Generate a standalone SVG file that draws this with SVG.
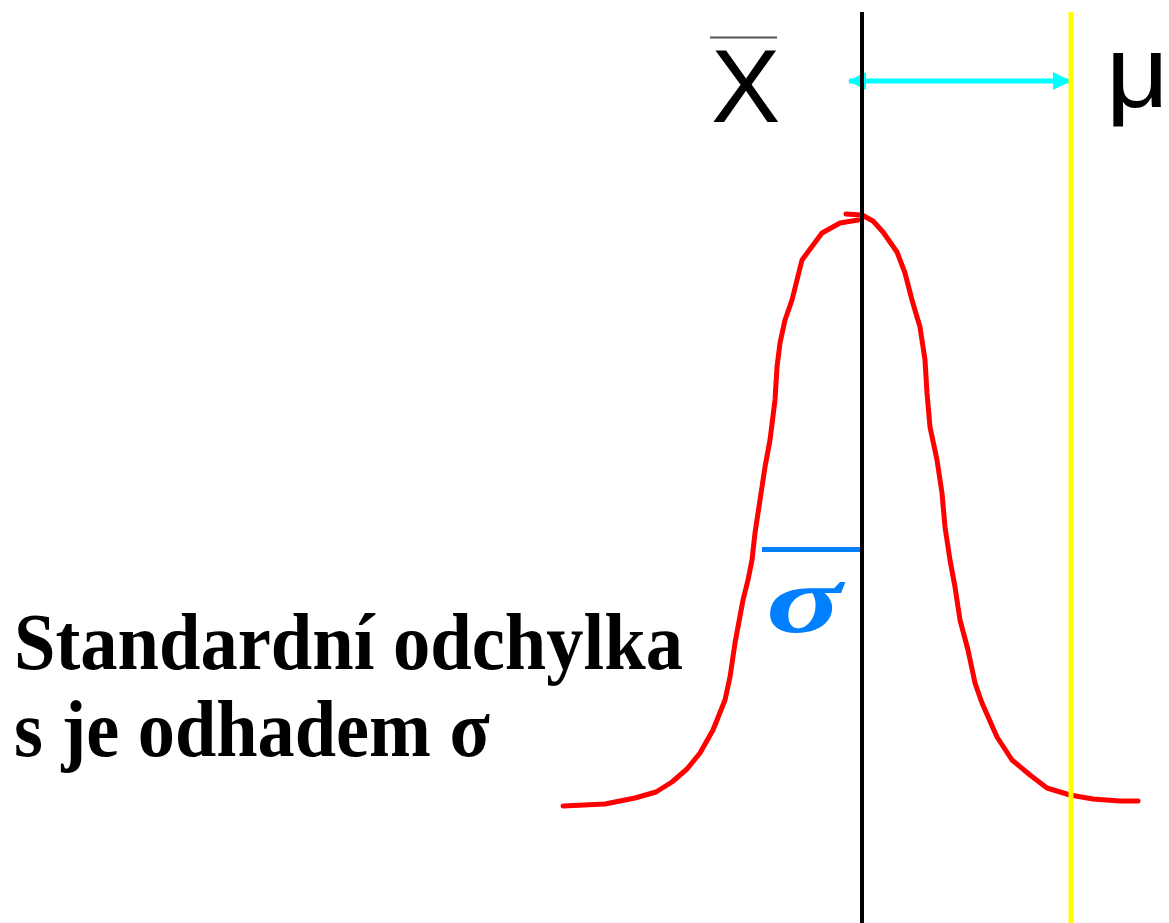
<svg xmlns="http://www.w3.org/2000/svg" width="1169" height="923" viewBox="0 0 1169 923">
<style>
.curve{fill:none;stroke:#FF0000;stroke-width:5;stroke-linejoin:round;stroke-linecap:round}
.sans{font-family:"Liberation Sans",Arial,sans-serif;fill:#000}
.cap{font-family:"Liberation Serif","Times New Roman",serif;font-weight:bold;font-size:80px;fill:#000}
</style>
<defs>
<marker id="ah" viewBox="0 0 18 18" refX="17" refY="9" markerWidth="18" markerHeight="18" markerUnits="userSpaceOnUse" orient="auto-start-reverse">
<path d="M0,0 L18,9 L0,18 Z" fill="#00FFFF"/>
</marker>
</defs>
<rect width="1169" height="923" fill="#fff"/>
<g id="curve">
<polyline class="curve" points="563,806 605,804 635,798 656,792 672,782 687,769 700,753 713,730 725,700 730,677 735,643 743,600 748,580 752,560 755,533 760,500 765,467 770,440 775,400 777,367 780,343 785,320 792,300 802,260 822,233 840,223 858,220"/>
<polyline class="curve" points="846,214 862,215 873,221 883,232 897,252 905,273 912,300 920,327 925,360 927,393 930,427 937,460 942,493 945,527 950,560 955,587 960,620 968,650 975,683 982,703 997,737 1012,760 1030,775 1047,788 1070,795 1093,799 1120,801 1138,801"/>
</g>
<g id="sigma-bar">
<line x1="762" y1="549.5" x2="861" y2="549.5" stroke="#0080FF" stroke-width="5"/>
<text x="766" y="632" font-family="'Liberation Serif','Times New Roman',serif" font-weight="bold" font-style="italic" font-size="96" fill="#0080FF" textLength="76" lengthAdjust="spacingAndGlyphs">σ</text>
</g>
<g id="connectors">
<line x1="849" y1="81" x2="1070" y2="81" stroke="#00FFFF" stroke-width="5" marker-start="url(#ah)" marker-end="url(#ah)"/>
</g>
<g id="mean-line">
<line x1="862" y1="12" x2="862" y2="923" stroke="#000" stroke-width="4"/>
</g>
<g id="mu-line">
<line x1="1071" y1="12" x2="1071" y2="923" stroke="#FFFF00" stroke-width="5"/>
</g>
<g id="label-xbar">
<line x1="710" y1="37.5" x2="777" y2="37.5" stroke="#555" stroke-width="2"/>
<text class="sans" x="711" y="122" font-size="104">X</text>
</g>
<g id="label-mu">
<text class="sans" x="1106" y="107" font-size="102" textLength="63" lengthAdjust="spacingAndGlyphs">μ</text>
</g>
<g id="caption">
<text class="cap" x="14" y="669" textLength="669" lengthAdjust="spacingAndGlyphs">Standardní odchylka</text>
<text class="cap" x="14" y="756" textLength="476" lengthAdjust="spacingAndGlyphs">s je odhadem σ</text>
</g>
</svg>
